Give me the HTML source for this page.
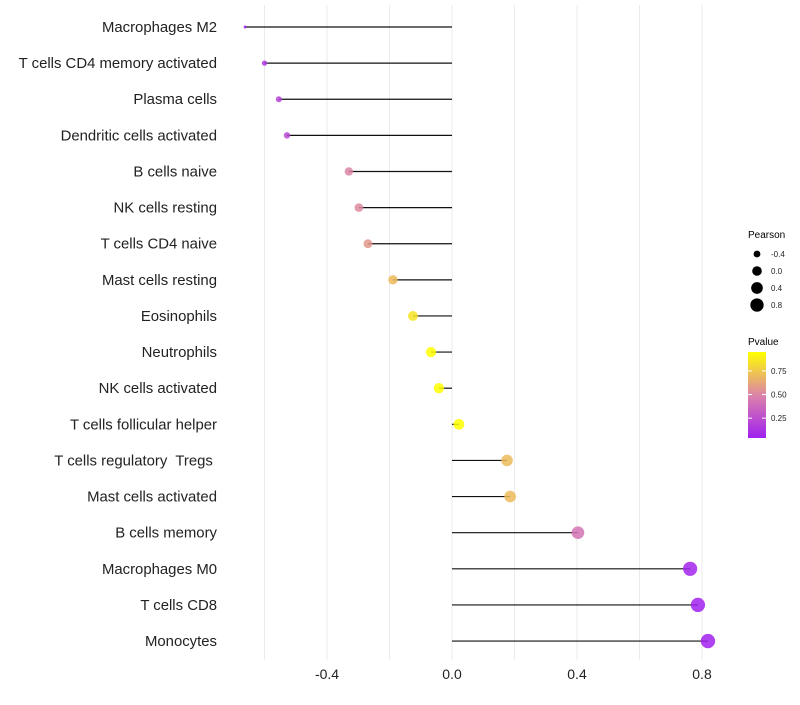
<!DOCTYPE html>
<html><head><meta charset="utf-8"><style>
body{margin:0;background:#fff;font-family:"Liberation Sans",sans-serif;}
svg text{font-family:"Liberation Sans",sans-serif;white-space:pre;}
</style></head><body>
<svg id="chart" width="800" height="700" xmlns="http://www.w3.org/2000/svg">
<g id="grid"></g>
<g id="marks"></g>
<g id="ylab"></g>
<g id="xlab"></g>
<g id="legend">
<text x="748" y="238" font-size="10">Pearson</text>
<g id="sizeLeg"></g>
<text x="748" y="345" font-size="10">Pvalue</text>
<defs><linearGradient id="pg" x1="0" y1="1" x2="0" y2="0">
<stop offset="0" stop-color="#a020f0"/><stop offset="0.5" stop-color="#dc84a8"/><stop offset="1" stop-color="#ffff00"/></linearGradient></defs>
<rect x="748" y="352" width="18" height="86" fill="url(#pg)"/>
<g id="colLeg"></g>
</g>
</svg>
<script>
const categories=["Macrophages M2","T cells CD4 memory activated","Plasma cells","Dendritic cells activated","B cells naive","NK cells resting","T cells CD4 naive","Mast cells resting","Eosinophils","Neutrophils","NK cells activated","T cells follicular helper","T cells regulatory  Tregs ","Mast cells activated","B cells memory","Macrophages M0","T cells CD8","Monocytes"];
const pearson=[-0.662,-0.60,-0.554,-0.528,-0.33,-0.298,-0.269,-0.189,-0.125,-0.067,-0.042,0.022,0.176,0.186,0.403,0.762,0.787,0.819];
const pvalue=[0.05,0.15,0.2,0.22,0.5,0.52,0.57,0.7,0.85,0.95,0.95,0.96,0.7,0.7,0.42,0.06,0.05,0.05];
const xTicks=[-0.4,0,0.4,0.8];
const xTickLabels=["-0.4","0.0","0.4","0.8"];
const sizeLegend=[-0.4,0,0.4,0.8];
const pTicks=[0.25,0.5,0.75];
const NS="http://www.w3.org/2000/svg";
const X=v=>452+v*312.5;
const Y=i=>27+i*36.12;
const R=v=>1.5+5.7*Math.sqrt(Math.max(0,(v+0.662)/1.48));
const PY=p=>438-(p-0.04)/0.91*86;
function col(p){const t=Math.max(0,Math.min(1,(p-0.04)/0.91));
 const a=[160,32,240],m=[220,132,168],b=[255,255,0];let c;
 if(t<0.5){const u=t/0.5;c=a.map((x,k)=>x+(m[k]-x)*u);}else{const u=(t-0.5)/0.5;c=m.map((x,k)=>x+(b[k]-x)*u);}
 return `rgb(${c.map(Math.round).join(",")})`;}
function mk(tag,at,parent){const e=document.createElementNS(NS,tag);for(const k in at)e.setAttribute(k,at[k]);parent.appendChild(e);return e;}
const grid=document.getElementById('grid'),marks=document.getElementById('marks'),ylab=document.getElementById('ylab'),xlab=document.getElementById('xlab');
for(let v=-0.6;v<=0.81;v+=0.2){const g=mk('line',{x1:X(v),x2:X(v),y1:5,y2:660,stroke:'#ebebeb','stroke-width':1},grid);

}
xTicks.forEach((v,i)=>{const t=mk('text',{x:X(v),y:679,'font-size':14,'text-anchor':'middle',fill:'#222'},xlab);t.textContent=xTickLabels[i];

});
categories.forEach((c,i)=>{
 const y=Y(i);
 const l=mk('line',{x1:X(0),x2:X(pearson[i]),y1:y,y2:y,stroke:'#111','stroke-width':1.2},marks);
 
 
 const d=mk('circle',{cx:X(pearson[i]),cy:y,r:R(pearson[i]),fill:col(pvalue[i]),'fill-opacity':0.85},marks);
 
 
 const t=mk('text',{x:217,y:y+5,'font-size':14.9,'text-anchor':'end',fill:'#222'},ylab);t.textContent=c;
 
 
});
const sl=document.getElementById('sizeLeg');
sizeLegend.forEach((v,i)=>{const y=254+i*17;
 const d=mk('circle',{cx:757,cy:y,r:R(v)-0.5,fill:'#000'},sl);
 
 
 const t=mk('text',{x:771,y:y+3,'font-size':8,fill:'#222'},sl);t.textContent=v.toFixed(1);
 
 });
const cl=document.getElementById('colLeg');
pTicks.forEach(p=>{const y=PY(p);
 const a=mk('line',{x1:748,x2:752,y1:y,y2:y,stroke:'#fff'},cl);
 
 
 const b=mk('line',{x1:762,x2:766,y1:y,y2:y,stroke:'#fff'},cl);
 
 
 const t=mk('text',{x:771,y:y+3,'font-size':8,fill:'#222'},cl);t.textContent=p.toFixed(2);
 
 });
</script>
</body></html>
